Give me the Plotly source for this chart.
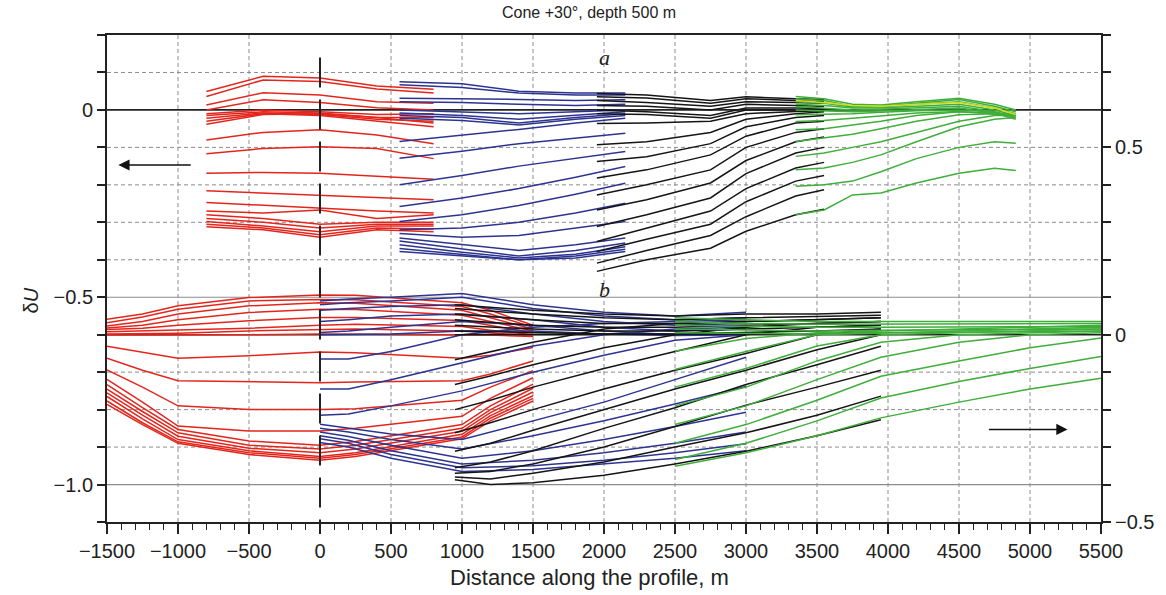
import plotly.graph_objects as go

# ---------------- Panel a (upper family of curves) ----------------
A_RED_X = [-800, -400, 0, 400, 800]
A_RED = [
    [0.049, 0.090, 0.085, 0.064, 0.055],
    [0.036, 0.080, 0.076, 0.056, 0.045],
    [0.013, 0.046, 0.040, 0.022, 0.018],
    [0.000, 0.027, 0.020, 0.006, 0.000],
    [-0.010, 0.000, -0.005, -0.012, -0.010],
    [-0.015, -0.005, -0.008, -0.020, -0.020],
    [-0.022, -0.008, -0.012, -0.025, -0.030],
    [-0.030, -0.010, -0.015, -0.030, -0.045],
    [-0.038, -0.012, -0.010, -0.020, -0.035],
    [-0.080, -0.060, -0.053, -0.067, -0.090],
    [-0.117, -0.103, -0.098, -0.103, -0.130],
    [-0.169, -0.167, -0.169, -0.178, -0.185],
    [-0.216, -0.222, -0.228, -0.235, -0.240],
    [-0.247, -0.255, -0.262, -0.270, -0.275],
    [-0.270, -0.275, -0.267, -0.290, -0.280],
    [-0.280, -0.290, -0.305, -0.300, -0.300],
    [-0.290, -0.300, -0.315, -0.305, -0.305],
    [-0.298, -0.310, -0.325, -0.310, -0.310],
    [-0.305, -0.315, -0.333, -0.315, -0.318],
    [-0.312, -0.320, -0.340, -0.320, -0.325],
]

A_BLUE_X = [560, 1000, 1400, 1800, 2150]
A_BLUE = [
    [0.075, 0.070, 0.050, 0.045, 0.045],
    [0.067, 0.060, 0.045, 0.040, 0.040],
    [0.031, 0.030, 0.028, 0.025, 0.027],
    [0.022, 0.020, 0.015, 0.012, 0.015],
    [0.000, -0.005, -0.010, -0.005, 0.000],
    [-0.008, -0.015, -0.025, -0.015, -0.005],
    [-0.015, -0.020, -0.035, -0.020, -0.010],
    [-0.022, -0.028, -0.040, -0.025, -0.015],
    [-0.084, -0.068, -0.052, -0.035, -0.022],
    [-0.129, -0.110, -0.090, -0.075, -0.062],
    [-0.200, -0.175, -0.150, -0.130, -0.111],
    [-0.258, -0.235, -0.210, -0.180, -0.151],
    [-0.298, -0.280, -0.255, -0.225, -0.196],
    [-0.320, -0.315, -0.300, -0.275, -0.249],
    [-0.330, -0.340, -0.335, -0.315, -0.298],
    [-0.342, -0.360, -0.375, -0.360, -0.342],
    [-0.350, -0.370, -0.390, -0.375, -0.355],
    [-0.360, -0.380, -0.395, -0.385, -0.365],
    [-0.370, -0.385, -0.400, -0.390, -0.372],
    [-0.378, -0.390, -0.400, -0.395, -0.378],
]

A_BLACK_X = [1950, 2300, 2750, 3000, 3350, 3550]
A_BLACK = [
    [0.044, 0.040, 0.025, 0.035, 0.030, 0.028],
    [0.035, 0.032, 0.018, 0.030, 0.025, 0.022],
    [0.025, 0.020, 0.010, 0.022, 0.020, 0.018],
    [0.012, 0.010, 0.000, 0.015, 0.012, 0.010],
    [0.000, -0.005, -0.015, 0.005, 0.005, 0.004],
    [-0.010, -0.012, -0.022, 0.000, 0.000, 0.000],
    [-0.036, -0.035, -0.030, -0.010, -0.004, -0.002],
    [-0.093, -0.085, -0.060, -0.025, -0.010, -0.005],
    [-0.138, -0.125, -0.090, -0.045, -0.020, -0.015],
    [-0.182, -0.160, -0.120, -0.070, -0.035, -0.030],
    [-0.227, -0.200, -0.160, -0.100, -0.060, -0.050],
    [-0.267, -0.240, -0.195, -0.135, -0.085, -0.072],
    [-0.311, -0.280, -0.235, -0.170, -0.115, -0.100],
    [-0.351, -0.315, -0.270, -0.210, -0.155, -0.140],
    [-0.378, -0.345, -0.305, -0.245, -0.190, -0.175],
    [-0.409, -0.375, -0.335, -0.285, -0.230, -0.213],
    [-0.431, -0.400, -0.369, -0.324, -0.280, -0.265],
]

A_GREEN_X = [3350, 3550, 3750, 3950, 4200, 4500, 4750, 4900]
A_GREEN = [
    [0.036, 0.030, 0.015, 0.013, 0.022, 0.031, 0.015, 0.000],
    [0.030, 0.025, 0.010, 0.010, 0.018, 0.028, 0.010, -0.005],
    [0.022, 0.018, 0.008, 0.008, 0.015, 0.022, 0.005, -0.010],
    [0.015, 0.012, 0.005, 0.005, 0.010, 0.015, 0.000, -0.015],
    [0.009, 0.005, 0.000, 0.002, 0.005, 0.010, -0.005, -0.020],
    [0.000, -0.002, -0.005, -0.003, 0.000, 0.005, -0.008, -0.025],
    [-0.013, -0.012, -0.010, -0.006, -0.002, 0.000, -0.005, -0.020],
    [-0.031, -0.028, -0.022, -0.015, -0.008, -0.004, -0.010, -0.015],
    [-0.053, -0.050, -0.040, -0.030, -0.015, -0.005, -0.008, -0.012],
    [-0.084, -0.075, -0.065, -0.050, -0.030, -0.013, -0.010, -0.012],
    [-0.124, -0.115, -0.100, -0.085, -0.060, -0.030, -0.015, -0.015],
    [-0.160, -0.155, -0.140, -0.120, -0.085, -0.045, -0.025, -0.020],
    [-0.204, -0.200, -0.190, -0.165, -0.130, -0.100, -0.085, -0.089],
    [-0.280, -0.267, -0.227, -0.222, -0.195, -0.169, -0.156, -0.162],
]
A_YELLOW = [0.025, 0.020, 0.012, 0.010, 0.015, 0.020, 0.005, -0.012]

# ---------------- Panel b (lower family of curves) ----------------
B_RED_X = [-1500, -1250, -1000, -500, 0, 250, 1000, 1200, 1500]
B_RED = [
    [-0.559, -0.545, -0.523, -0.501, -0.494, -0.495, -0.515, -0.535, -0.575],
    [-0.568, -0.553, -0.532, -0.510, -0.506, -0.507, -0.525, -0.545, -0.580],
    [-0.577, -0.565, -0.545, -0.523, -0.515, -0.516, -0.535, -0.555, -0.585],
    [-0.582, -0.575, -0.560, -0.541, -0.532, -0.533, -0.548, -0.565, -0.590],
    [-0.586, -0.583, -0.575, -0.563, -0.554, -0.554, -0.562, -0.575, -0.595],
    [-0.592, -0.590, -0.588, -0.583, -0.575, -0.572, -0.578, -0.588, -0.600],
    [-0.598, -0.598, -0.596, -0.590, -0.586, -0.585, -0.590, -0.595, -0.603],
    [-0.601, -0.601, -0.602, -0.600, -0.598, -0.598, -0.600, -0.601, -0.605],
    [-0.631, -0.648, -0.663, -0.656, -0.646, -0.648, -0.663, -0.655, -0.634],
    [-0.663, -0.695, -0.723, -0.726, -0.728, -0.726, -0.723, -0.705, -0.670],
    [-0.694, -0.740, -0.790, -0.800, -0.800, -0.798, -0.775, -0.740, -0.696],
    [-0.719, -0.780, -0.844, -0.857, -0.857, -0.850, -0.818, -0.770, -0.715],
    [-0.733, -0.795, -0.853, -0.884, -0.895, -0.885, -0.840, -0.790, -0.732],
    [-0.745, -0.805, -0.862, -0.895, -0.905, -0.895, -0.850, -0.800, -0.743],
    [-0.755, -0.815, -0.871, -0.903, -0.915, -0.905, -0.858, -0.808, -0.753],
    [-0.765, -0.825, -0.880, -0.910, -0.925, -0.915, -0.866, -0.816, -0.763],
    [-0.777, -0.835, -0.886, -0.915, -0.930, -0.920, -0.873, -0.823, -0.770],
    [-0.786, -0.840, -0.890, -0.920, -0.935, -0.925, -0.878, -0.830, -0.777],
]

B_BLUE_X = [0, 200, 500, 1000, 1500, 2000, 2500, 3000]
B_BLUE = [
    [-0.510, -0.505, -0.500, -0.490, -0.520, -0.540, -0.550, -0.540],
    [-0.520, -0.515, -0.510, -0.500, -0.530, -0.550, -0.560, -0.555],
    [-0.535, -0.530, -0.525, -0.520, -0.545, -0.565, -0.575, -0.570],
    [-0.565, -0.560, -0.550, -0.545, -0.560, -0.580, -0.590, -0.585],
    [-0.594, -0.590, -0.580, -0.565, -0.575, -0.590, -0.600, -0.595],
    [-0.600, -0.600, -0.598, -0.590, -0.590, -0.598, -0.602, -0.600],
    [-0.665, -0.665, -0.645, -0.600, -0.580, -0.570, -0.565, -0.560],
    [-0.745, -0.745, -0.720, -0.674, -0.630, -0.600, -0.585, -0.580],
    [-0.815, -0.812, -0.790, -0.750, -0.700, -0.655, -0.615, -0.600],
    [-0.839, -0.850, -0.865, -0.880, -0.830, -0.780, -0.720, -0.660],
    [-0.850, -0.860, -0.880, -0.905, -0.870, -0.830, -0.785, -0.738],
    [-0.860, -0.872, -0.895, -0.930, -0.910, -0.880, -0.845, -0.807],
    [-0.870, -0.882, -0.910, -0.945, -0.935, -0.915, -0.890, -0.860],
    [-0.878, -0.890, -0.920, -0.955, -0.950, -0.935, -0.915, -0.891],
    [-0.888, -0.900, -0.930, -0.965, -0.960, -0.945, -0.930, -0.910],
]

B_BLACK_X = [950, 1200, 1500, 2000, 2500, 3000, 3500, 3950]
B_BLACK = [
    [-0.520, -0.527, -0.535, -0.545, -0.550, -0.545, -0.545, -0.540],
    [-0.530, -0.537, -0.545, -0.555, -0.560, -0.555, -0.552, -0.548],
    [-0.545, -0.552, -0.560, -0.570, -0.570, -0.565, -0.560, -0.555],
    [-0.560, -0.567, -0.575, -0.580, -0.580, -0.575, -0.570, -0.565],
    [-0.575, -0.580, -0.585, -0.590, -0.590, -0.585, -0.580, -0.575],
    [-0.590, -0.592, -0.595, -0.598, -0.598, -0.595, -0.590, -0.585],
    [-0.600, -0.600, -0.600, -0.600, -0.600, -0.600, -0.598, -0.595],
    [-0.667, -0.645, -0.620, -0.585, -0.570, -0.565, -0.560, -0.555],
    [-0.733, -0.710, -0.680, -0.635, -0.600, -0.580, -0.570, -0.565],
    [-0.800, -0.775, -0.740, -0.690, -0.645, -0.600, -0.580, -0.575],
    [-0.862, -0.835, -0.800, -0.745, -0.695, -0.650, -0.600, -0.585],
    [-0.911, -0.890, -0.855, -0.800, -0.745, -0.695, -0.640, -0.600],
    [-0.955, -0.940, -0.910, -0.850, -0.795, -0.733, -0.680, -0.631],
    [-0.970, -0.965, -0.945, -0.900, -0.845, -0.788, -0.740, -0.695],
    [-0.980, -0.985, -0.970, -0.940, -0.900, -0.862, -0.815, -0.764],
    [-0.987, -1.000, -0.995, -0.975, -0.945, -0.911, -0.870, -0.827],
]

B_GREEN_X = [2500, 3000, 3500, 3950, 4500, 5000, 5500]
B_GREEN = [
    [-0.555, -0.560, -0.565, -0.565, -0.565, -0.565, -0.565],
    [-0.565, -0.570, -0.572, -0.572, -0.572, -0.572, -0.570],
    [-0.575, -0.578, -0.580, -0.580, -0.580, -0.578, -0.578],
    [-0.585, -0.588, -0.590, -0.588, -0.587, -0.585, -0.585],
    [-0.595, -0.596, -0.598, -0.595, -0.593, -0.592, -0.590],
    [-0.644, -0.610, -0.595, -0.590, -0.585, -0.580, -0.575],
    [-0.693, -0.645, -0.600, -0.595, -0.590, -0.585, -0.580],
    [-0.740, -0.690, -0.630, -0.600, -0.595, -0.590, -0.585],
    [-0.790, -0.740, -0.670, -0.620, -0.600, -0.595, -0.590],
    [-0.840, -0.790, -0.720, -0.660, -0.620, -0.600, -0.595],
    [-0.890, -0.840, -0.775, -0.711, -0.670, -0.635, -0.609],
    [-0.933, -0.890, -0.830, -0.769, -0.725, -0.690, -0.658],
    [-0.951, -0.915, -0.870, -0.822, -0.780, -0.745, -0.716],
]

# ---------------- Axis tick values ----------------
X_TICKS = list(range(-1500, 5501, 500))
X_TICK_LABELS = [str(v).replace("-", "\u2212") for v in X_TICKS]
Y_TICKS = [round(-1.1 + 0.1 * i, 1) for i in range(14)]
Y_LABELLED = {0.0: "0", -0.5: "\u22120.5", -1.0: "\u22121.0"}
Y2_TICKS = [round(-0.5 + 0.1 * i, 1) for i in range(14)]
Y2_LABELLED = {0.5: "0.5", 0.0: "0", -0.5: "\u22120.5"}

RED = "#e3261d"
BLUE = "#2d3490"
BLACK = "#151515"
GREEN = "#3fae3a"
YELLOW = "#d4dc1e"
FONT = "Liberation Sans, Arial, sans-serif"
SERIF = "Liberation Serif, Times New Roman, serif"
TXT = "#222222"

fig = go.Figure()


def add_group(xs, rows, color, width=1.5):
    for row in rows:
        fig.add_trace(go.Scatter(x=xs, y=row, mode="lines",
                                 line=dict(color=color, width=width),
                                 hoverinfo="skip", showlegend=False))


add_group(A_RED_X, A_RED, RED)
add_group(A_BLUE_X, A_BLUE, BLUE)
add_group(A_BLACK_X, A_BLACK, BLACK)
add_group(A_GREEN_X, A_GREEN, GREEN)
add_group(A_GREEN_X, [A_YELLOW], YELLOW)

add_group(B_RED_X, B_RED, RED)
add_group(B_BLUE_X, B_BLUE, BLUE)
add_group(B_BLACK_X, B_BLACK, BLACK)
add_group(B_GREEN_X, B_GREEN, GREEN)

# invisible trace to activate the right-hand axis
fig.add_trace(go.Scatter(x=[-1500], y=[0], yaxis="y2", mode="markers",
                         marker=dict(opacity=0), hoverinfo="skip", showlegend=False))

shapes = []
grid = dict(color="#8c8c8c", width=1, dash="4px,3px")
for xv in X_TICKS[1:-1]:
    if xv == 0:
        continue
    shapes.append(dict(type="line", xref="x", yref="paper", x0=xv, x1=xv, y0=0, y1=1,
                       line=grid, layer="below"))
for yv in [0.1, -0.1, -0.2, -0.3, -0.4, -0.7, -0.8, -0.9]:
    shapes.append(dict(type="line", xref="paper", yref="y", x0=0, x1=1, y0=yv, y1=yv,
                       line=grid, layer="below"))
for yv in [-0.5, -1.0]:
    shapes.append(dict(type="line", xref="paper", yref="y", x0=0, x1=1, y0=yv, y1=yv,
                       line=dict(color="#8c8c8c", width=1.2), layer="below"))
for yv in [0.0, -0.6]:
    shapes.append(dict(type="line", xref="paper", yref="y", x0=0, x1=1, y0=yv, y1=yv,
                       line=dict(color="#222222", width=1.6), layer="below"))
# profile origin marker
shapes.append(dict(type="line", xref="x", yref="y", x0=0, x1=0, y0=0.14, y1=-1.1,
                   line=dict(color="#222222", width=2, dash="30px,12px"), layer="above"))

annotations = [
    dict(text="Cone +30°, depth 500 m", xref="paper", yref="paper", x=0.485, y=1.047,
         xanchor="center", yanchor="middle", showarrow=False,
         font=dict(family=FONT, size=16, color=TXT)),
    dict(text="Distance along the profile, m", xref="paper", yref="paper", x=0.485, y=-0.114,
         xanchor="center", yanchor="middle", showarrow=False,
         font=dict(family=FONT, size=22, color=TXT)),
    dict(text="δ<i>U</i>", xref="paper", yref="paper", x=-0.077, y=0.456, textangle=-90,
         xanchor="center", yanchor="middle", showarrow=False,
         font=dict(family=FONT, size=20, color=TXT)),
    dict(text="<i>a</i>", xref="x", yref="y", x=2000, y=0.141, showarrow=False,
         xanchor="center", yanchor="middle", font=dict(family=SERIF, size=22, color=TXT)),
    dict(text="<i>b</i>", xref="x", yref="y", x=2000, y=-0.48, showarrow=False,
         xanchor="center", yanchor="middle", font=dict(family=SERIF, size=22, color=TXT)),
    dict(text="", xref="x", yref="y", x=-1420, y=-0.147, axref="x", ayref="y",
         ax=-900, ay=-0.147, showarrow=True, arrowhead=2, arrowsize=1.4, arrowwidth=1.6,
         arrowcolor="#111"),
    dict(text="", xref="x", yref="y", x=5264, y=-0.853, axref="x", ayref="y",
         ax=4700, ay=-0.853, showarrow=True, arrowhead=2, arrowsize=1.4, arrowwidth=1.6,
         arrowcolor="#111"),
]

fig.update_layout(
    width=1166, height=595,
    margin=dict(l=107, r=63, t=35, b=73),
    plot_bgcolor="white", paper_bgcolor="white",
    showlegend=False,
    font=dict(family=FONT, size=20, color=TXT),
    shapes=shapes, annotations=annotations,
    xaxis=dict(range=[-1500, 5500], tickvals=X_TICKS, ticktext=X_TICK_LABELS,
               ticks="outside", ticklen=10, tickwidth=1.5, tickcolor="#222",
               minor=dict(dtick=100, tick0=0, ticks="outside", ticklen=6, tickwidth=1.3,
                          tickcolor="#222", showgrid=False),
               showline=True, linecolor="#222", linewidth=2, mirror=True,
               showgrid=False, zeroline=False, tickfont=dict(size=20, color=TXT)),
    yaxis=dict(range=[-1.1, 0.2], tickvals=Y_TICKS,
               ticktext=[Y_LABELLED.get(v, "") for v in Y_TICKS],
               ticks="outside", ticklen=8, tickwidth=1.5, tickcolor="#222",
               showline=True, linecolor="#222", linewidth=2,
               showgrid=False, zeroline=False, tickfont=dict(size=20, color=TXT)),
    yaxis2=dict(range=[-0.5, 0.8], overlaying="y", side="right", tickvals=Y2_TICKS,
                ticktext=[Y2_LABELLED.get(v, "") for v in Y2_TICKS],
                ticks="outside", ticklen=8, tickwidth=1.5, tickcolor="#222",
                showline=True, linecolor="#222", linewidth=2,
                showgrid=False, zeroline=False, tickfont=dict(size=20, color=TXT)),
)

fig.write_html("out.html")
